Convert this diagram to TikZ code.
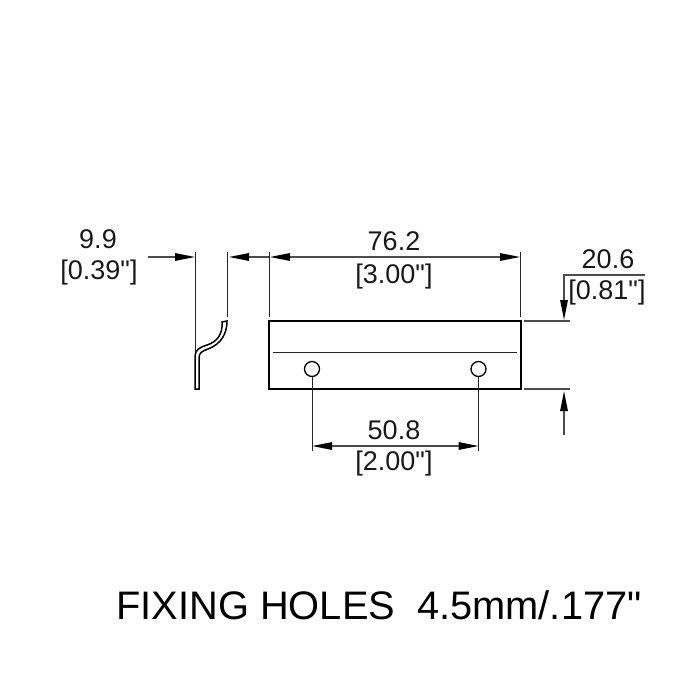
\documentclass[tikz,border=0pt]{standalone}
\usepackage{fontspec}
\newfontfamily\dimfont{Liberation Sans}
\usetikzlibrary{arrows.meta}
\tikzset{
    thinline/.style={line width=1pt, black!85},
    partline/.style={line width=1.8pt, black},
    dimline/.style={line width=1.4pt, black!70, -{Triangle[length=20pt,width=7.5pt,black]}},
    dimtext/.style={font=\dimfont\fontsize{27}{27}\selectfont, inner sep=0pt, text=black!90},
}
\begin{document}
\begin{tikzpicture}[x=1pt,y=-1pt]
    \useasboundingbox (0,0) rectangle (700,700);
    % plate
    \draw[partline] (269,321) rectangle (521,389);
    \draw[thinline] (273,352) -- (517,352);
    \draw[line width=1.3pt] (312,369) circle (7.5);
    \draw[line width=1.3pt] (478.5,369) circle (7.5);
    % clip profile
    \draw[partline, line width=1.5pt] (195,389) -- (195,356) .. controls (195,350) and (200,347) .. (207,345)
        .. controls (217,342) and (223,334) .. (222,322) -- (227,321)
        .. controls (227,334) and (221,344) .. (208,349)
        .. controls (202,351) and (199,353) .. (199,358) -- (199,389) -- cycle;
    % extension lines
    \draw[thinline] (195,252) -- (195,352);
    \draw[thinline] (227,252) -- (227,317);
    \draw[thinline] (269,252) -- (269,317);
    \draw[thinline] (520,252) -- (520,317);
    \draw[thinline] (312,377) -- (312,451);
    \draw[thinline] (478.5,377) -- (478.5,451);
    \draw[dimline, -] (524,321) -- (570,321);
    \draw[dimline, -] (524,389) -- (570,389);
    % dimensions
    \draw[dimline] (148,257) -- (195,257);
    \draw[dimline] (269,257) -- (229,257);
    \draw[dimline] (395,257) -- (270,257);
    \draw[dimline] (395,257) -- (520,257);
    \draw[dimline] (645,275) -- (564,275) -- (564,320);
    \draw[dimline] (564,435) -- (564,391);
    \draw[dimline] (395,446) -- (312,446);
    \draw[dimline] (395,446) -- (478.5,446);
    % labels
    \node[dimtext] (lblclipmm) at (98,239) {9.9};
    \node[dimtext] (lblclipin) at (99,273) {[0.39"]};
    \node[dimtext] (lbllenmm) at (394,241) {76.2};
    \node[dimtext] (lbllenin) at (394,277) {[3.00"]};
    \node[dimtext] (lblhgtmm) at (608,259) {20.6};
    \node[dimtext] (lblhgtin) at (607,293) {[0.81"]};
    \node[dimtext] (lblholemm) at (394,430) {50.8};
    \node[dimtext] (lblholein) at (394,464) {[2.00"]};
    \node[font=\dimfont\fontsize{39.8}{39.8}\selectfont, inner sep=0pt] (lblfix) at (379,605) {FIXING HOLES\ \ 4.5mm/.177"};
\end{tikzpicture}
\end{document}
